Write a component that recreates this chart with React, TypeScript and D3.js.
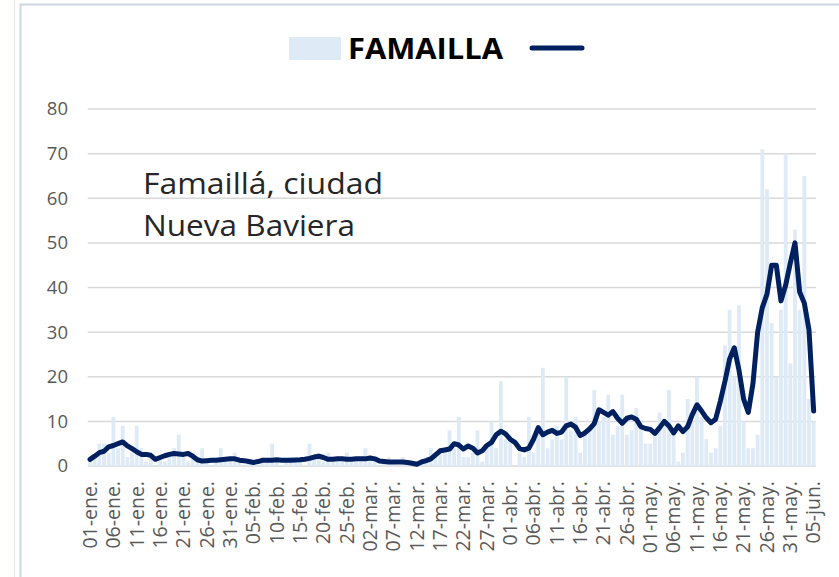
import React from "react";
import * as d3 from "d3";

// casos diarios (barras) y promedio móvil (línea), 01-ene a 05-jun
const cases = [
  1, 2, 5, 5, 3, 11, 4, 9, 2, 3,
  9, 4, 1, 2, 0, 2, 1, 3, 4, 7,
  2, 1, 3, 2, 4, 1, 0, 1, 4, 1,
  2, 3, 1, 0, 1, 1, 0, 1, 1, 5,
  1, 0, 1, 2, 1, 1, 0, 5, 2, 3,
  1, 3, 1, 2, 1, 3, 1, 2, 1, 4,
  2, 1, 0, 1, 2, 1, 0, 2, 1, 0,
  0, 1, 2, 4, 3, 4, 3, 8, 4, 11,
  2, 2, 3, 8, 1, 4, 10, 4, 19, 6,
  6, 0, 3, 2, 11, 3, 8, 22, 4, 6,
  9, 6, 20, 8, 11, 3, 8, 9, 17, 10,
  11, 16, 7, 9, 16, 7, 8, 13, 9, 5,
  5, 8, 12, 10, 17, 7, 1, 3, 15, 10,
  20, 11, 6, 3, 4, 9, 27, 35, 20, 36,
  10, 4, 4, 7, 71, 62, 32, 20, 35, 70,
  23, 53, 35, 65, 15, 10,
];

const average = [
  1.5, 2.2, 3.0, 3.3, 4.3, 4.6, 5.0, 5.4, 4.5, 3.9,
  3.2, 2.6, 2.6, 2.4, 1.5, 1.9, 2.3, 2.6, 2.8, 2.7,
  2.6, 2.8, 2.2, 1.4, 1.1, 1.2, 1.3, 1.3, 1.4, 1.5,
  1.6, 1.6, 1.3, 1.2, 1.0, 0.8, 1.0, 1.3, 1.3, 1.3,
  1.4, 1.3, 1.3, 1.3, 1.35, 1.4, 1.5, 1.7, 2.0, 2.2,
  1.9, 1.5, 1.5, 1.6, 1.6, 1.5, 1.5, 1.6, 1.6, 1.6,
  1.8, 1.6, 1.1, 1.0, 0.9, 0.9, 0.9, 0.9, 0.8, 0.6,
  0.4, 0.9, 1.2, 1.6, 2.5, 3.4, 3.6, 3.8, 5.0, 4.7,
  3.8, 4.5, 4.0, 2.9, 3.4, 4.6, 5.3, 7.0, 7.8, 7.2,
  6.0, 5.3, 3.9, 3.6, 4.0, 6.0, 8.6, 7.0, 7.6, 8.0,
  7.3, 7.6, 9.0, 9.4, 8.7, 6.8, 7.4, 8.3, 9.5, 12.6,
  12.0, 11.4, 12.2, 10.7, 9.6, 10.7, 11.0, 10.5, 8.8, 8.4,
  8.2, 7.3, 8.6, 10.0, 9.0, 7.4, 9.0, 7.7, 8.8, 11.5,
  13.7, 12.3, 10.8, 9.7, 10.5, 14.5, 19.0, 24.0, 26.5, 21.5,
  15.0, 12.0, 18.5, 30.0, 35.5, 38.5, 45.0, 45.0, 37.0, 40.5,
  45.5, 50.0, 39.0, 36.5, 30.5, 12.3,
];

const tickLabels = [
  "01-ene.", "06-ene.", "11-ene.", "16-ene.", "21-ene.", "26-ene.", "31-ene.",
  "05-feb.", "10-feb.", "15-feb.", "20-feb.", "25-feb.",
  "02-mar.", "07-mar.", "12-mar.", "17-mar.", "22-mar.", "27-mar.",
  "01-abr.", "06-abr.", "11-abr.", "16-abr.", "21-abr.", "26-abr.",
  "01-may.", "06-may.", "11-may.", "16-may.", "21-may.", "26-may.", "31-may.",
  "05-jun.",
];

const yTicks = [0, 10, 20, 30, 40, 50, 60, 70, 80];

const days = d3.range(cases.length);

const W = 839;
const H = 577;
const plot = { left: 87.7, right: 816, top: 109, bottom: 466 };
const FONT = "'Open Sans', 'DejaVu Sans', sans-serif";

export default function App() {
  const x = d3
    .scaleBand<number>()
    .domain(days)
    .range([plot.left, plot.right])
    .paddingInner(0.18)
    .paddingOuter(0.09);

  const y = d3.scaleLinear().domain([0, 80]).range([plot.bottom, plot.top]);

  const cx = (i: number) => (x(i) as number) + x.bandwidth() / 2;

  const line = d3
    .line<number>()
    .x((_, i) => cx(i))
    .y((d) => y(d));

  return (
    <svg
      width={W}
      height={H}
      style={{ position: "absolute", left: 0, top: 0, background: "#fff" }}
    >
      <line x1={14.5} x2={14.5} y1={0} y2={H} stroke="#e4e8ee" strokeWidth={1} />
      <rect x={20.5} y={4.5} width={W} height={H} fill="#fff" stroke="#ccd7e4" strokeWidth={2} />

      {/* legend */}
      <rect x={289} y={37} width={52} height={23} fill="#deebf7" />
      <text
        x={348}
        y={59}
        fontFamily={FONT}
        fontWeight="bold"
        fontSize={29}
        fill="#000"
        textLength={155}
        lengthAdjust="spacingAndGlyphs"
      >
        FAMAILLA
      </text>
      <line x1={532} x2={582} y1={48} y2={48} stroke="#002060" strokeWidth={5} strokeLinecap="round" />

      {/* grid + y axis */}
      {yTicks.map((t) => (
        <g key={t}>
          <line
            x1={plot.left}
            x2={plot.right}
            y1={y(t)}
            y2={y(t)}
            stroke="#d9d9d9"
            strokeWidth={1.5}
          />
          <text
            x={68}
            y={y(t)}
            dy="0.35em"
            textAnchor="end"
            fontFamily={FONT}
            fontSize={18.5}
            fill="#595959"
          >
            {t}
          </text>
        </g>
      ))}

      {/* bars */}
      {cases.map((v, i) => (
        <rect
          key={i}
          x={x(i)}
          y={y(v)}
          width={x.bandwidth()}
          height={plot.bottom - y(v)}
          fill="#deebf7"
        />
      ))}

      {/* moving average */}
      <path
        d={line(average) ?? ""}
        fill="none"
        stroke="#002060"
        strokeWidth={5}
        strokeLinejoin="round"
        strokeLinecap="round"
      />

      {/* x axis labels */}
      {tickLabels.map((lab, k) => (
        <text
          key={lab}
          transform={`translate(${cx(k * 5)},${481}) rotate(-90)`}
          dy="0.35em"
          textAnchor="end"
          fontFamily={FONT}
          fontSize={19.5}
          fill="#595959"
        >
          {lab}
        </text>
      ))}

      {/* annotation */}
      <text fontFamily={FONT} fontSize={30} fill="#262626">
        <tspan x={143} y={194} textLength={240} lengthAdjust="spacingAndGlyphs">
          Famaillá, ciudad
        </tspan>
        <tspan x={143} y={236} textLength={212} lengthAdjust="spacingAndGlyphs">
          Nueva Baviera
        </tspan>
      </text>
    </svg>
  );
}
